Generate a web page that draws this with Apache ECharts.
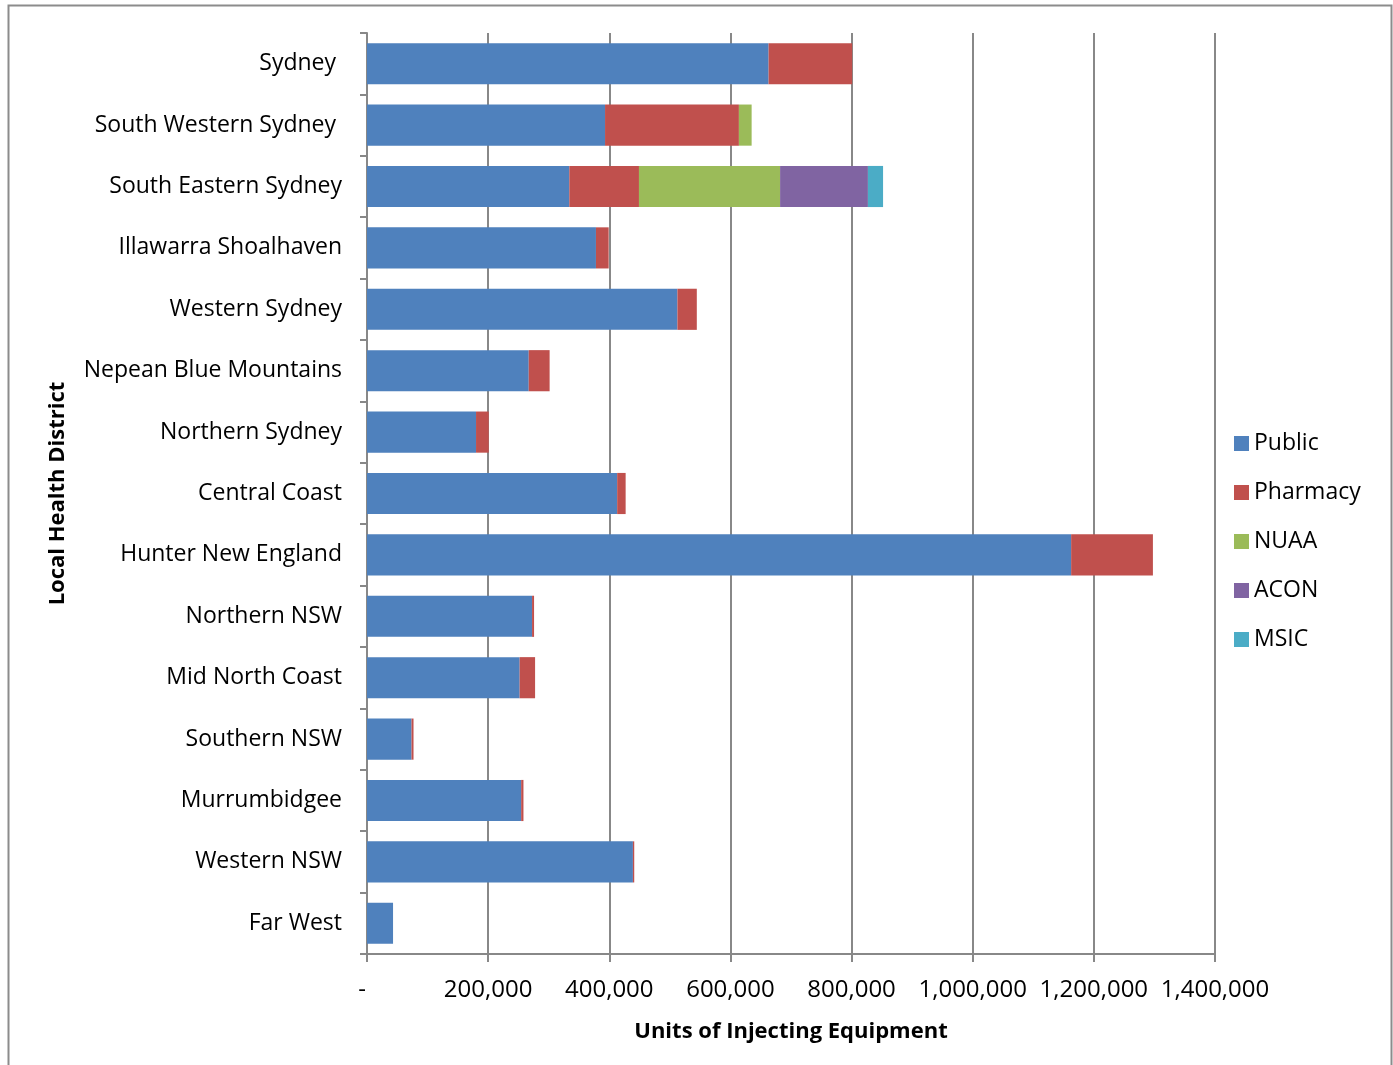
<!DOCTYPE html>
<html>
<head>
<meta charset="utf-8">
<script src="https://cdn.jsdelivr.net/npm/echarts@6/dist/echarts.min.js"></script>
<style>
  html, body { margin: 0; padding: 0; background: #fff; }
  #chart { width: 1393px; height: 1065px; }
</style>
</head>
<body>
<div id="chart"></div>
<script>
const categories = ['Sydney ', 'South Western Sydney ', 'South Eastern Sydney', 'Illawarra Shoalhaven',
  'Western Sydney', 'Nepean Blue Mountains', 'Northern Sydney', 'Central Coast', 'Hunter New England',
  'Northern NSW', 'Mid North Coast', 'Southern NSW', 'Murrumbidgee', 'Western NSW', 'Far West'];
const publicVals   = [663000, 393000, 334000, 378000, 512500, 267000, 180000, 413000, 1162500, 272500, 252000, 73500, 254500, 439000, 43000];
const pharmacyVals = [138000, 221000, 115000, 21000, 32000, 34500, 21000, 14000, 135000, 3300, 25500, 3300, 3800, 2200, 0];
const nuaaVals     = [0, 21000, 233000, 0, 0, 0, 0, 0, 0, 0, 0, 0, 0, 0, 0];
const aconVals     = [0, 0, 145000, 0, 0, 0, 0, 0, 0, 0, 0, 0, 0, 0, 0];
const msicVals     = [0, 0, 25000, 0, 0, 0, 0, 0, 0, 0, 0, 0, 0, 0, 0];
const xTicks = { min: 0, max: 1400000, interval: 200000 };

const FONT = 'Open Sans';
const colors = ['#4F81BD', '#C0504D', '#9BBB59', '#8064A2', '#4BACC6'];
const names = ['Public', 'Pharmacy', 'NUAA', 'ACON', 'MSIC'];
const vals = [publicVals, pharmacyVals, nuaaVals, aconVals, msicVals];

const chart = echarts.init(document.getElementById('chart'), null, { renderer: 'canvas' });
const option = {
  animation: false,
  color: colors,
  textStyle: { fontFamily: FONT },
  graphic: [{
    type: 'rect', left: 6, top: 3, z: -10, silent: true,
    shape: { width: 1383, height: 1100 },
    style: { fill: 'none', stroke: '#8c8c8c', lineWidth: 2 }
  }],
  grid: { left: 367, right: 178, top: 33, bottom: 111, containLabel: false },
  legend: {
    orient: 'vertical', left: 1229, top: 427,
    itemWidth: 15, itemHeight: 15, itemGap: 26,
    icon: 'rect',
    textStyle: { fontFamily: FONT, fontSize: 23, lineHeight: 22, color: '#000' },
    data: names
  },
  xAxis: {
    type: 'value', min: xTicks.min, max: xTicks.max, interval: xTicks.interval,
    name: 'Units of Injecting Equipment', nameLocation: 'middle', nameGap: 67,
    nameTextStyle: { fontFamily: FONT, fontSize: 22, fontWeight: 'bold', color: '#000' },
    axisLine: { show: true, lineStyle: { color: '#888', width: 2 } },
    axisTick: { show: true, length: 8, lineStyle: { color: '#888', width: 2 } },
    axisLabel: {
      fontFamily: FONT, fontSize: 24, color: '#000', margin: 24,
      formatter: v => v === 0 ? '{d|-}' : v.toLocaleString('en-US'),
      rich: { d: { fontFamily: FONT, fontSize: 24, color: '#000', padding: [0, 10, 0, 0] } }
    },
    splitLine: { show: true, lineStyle: { color: '#888', width: 2 } }
  },
  yAxis: {
    type: 'category', inverse: true, data: categories,
    name: 'Local Health District', nameLocation: 'middle', nameGap: 298,
    nameTextStyle: { fontFamily: FONT, fontSize: 22, fontWeight: 'bold', color: '#000' },
    axisLine: { show: true, lineStyle: { color: '#888', width: 2 } },
    axisTick: { show: true, length: 7, lineStyle: { color: '#888', width: 2 } },
    axisLabel: { fontFamily: FONT, fontSize: 23, color: '#000', margin: 25 },
    splitLine: { show: false }
  },
  series: names.map((n, i) => ({
    name: n, type: 'bar', stack: 'total', data: vals[i],
    barCategoryGap: '33%',
    itemStyle: { color: colors[i] }
  }))
};
chart.setOption(option);
</script>
</body>
</html>
